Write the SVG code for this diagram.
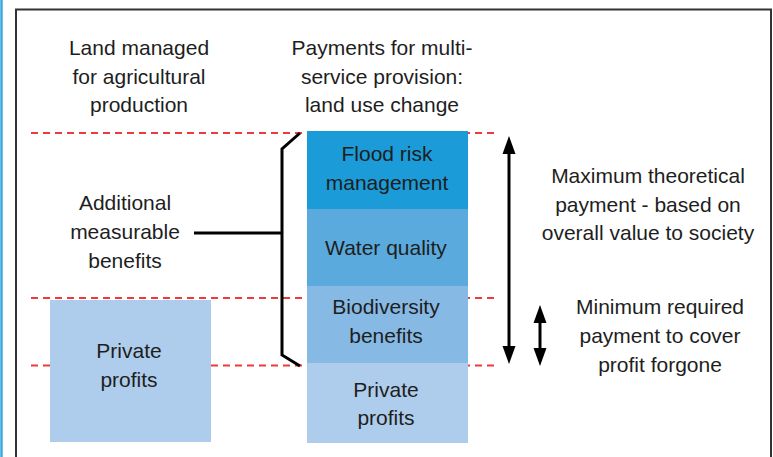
<svg xmlns="http://www.w3.org/2000/svg" width="773" height="457" viewBox="0 0 773 457">
<style>
  .t { font-family: "Liberation Sans", Arial, sans-serif; font-size: 21px; fill: #1e1e1e; text-anchor: middle; }
  .dash { stroke: #ee3a3a; stroke-width: 2.2; stroke-dasharray: 7 5; fill: none; }
  .ln { stroke: #000; stroke-width: 3; fill: none; }
</style>
<defs>
  <marker id="ah" markerUnits="userSpaceOnUse" markerWidth="22" markerHeight="16" viewBox="0 -8 22 16" refX="1" refY="0" orient="auto-start-reverse">
    <path d="M0,-6.5 L18,0 L0,6.5 z" fill="#000"/>
  </marker>
</defs>
<rect width="773" height="457" fill="#fff"/>
<line x1="1.5" y1="0" x2="1.5" y2="457" stroke="#3aa8e0" stroke-width="2.5"/>
<path d="M16,457 V9.5 H771 V457" stroke="#333" stroke-width="2" fill="none"/>

<g id="guides">
  <line class="dash" x1="31" y1="133" x2="496" y2="133"/>
  <line class="dash" x1="31" y1="298" x2="496" y2="298"/>
  <line class="dash" x1="31" y1="365.5" x2="496" y2="365.5"/>
</g>

<g id="header-left">
  <text class="t" x="139" y="55">Land managed</text>
  <text class="t" x="139" y="83.5">for agricultural</text>
  <text class="t" x="139" y="112">production</text>
</g>
<g id="header-right">
  <text class="t" x="382" y="55">Payments for multi-</text>
  <text class="t" x="382" y="83.5">service provision:</text>
  <text class="t" x="382" y="112">land use change</text>
</g>

<g id="left-private">
  <rect x="50" y="300" width="161" height="142" fill="#aecdec"/>
  <text class="t" x="129" y="358">Private</text>
  <text class="t" x="129" y="387">profits</text>
</g>

<g id="flood">
  <rect x="307" y="131" width="161" height="78" fill="#1b9bd7"/>
  <text class="t" x="387" y="161">Flood risk</text>
  <text class="t" x="387" y="190">management</text>
</g>
<g id="water">
  <rect x="307" y="209" width="161" height="77" fill="#5baadd"/>
  <text class="t" x="386" y="255">Water quality</text>
</g>
<g id="biodiversity">
  <rect x="307" y="286" width="161" height="77" fill="#86b9e4"/>
  <text class="t" x="386" y="314">Biodiversity</text>
  <text class="t" x="386" y="343">benefits</text>
</g>
<g id="right-private">
  <rect x="307" y="363" width="161" height="80" fill="#aecdec"/>
  <text class="t" x="386" y="397">Private</text>
  <text class="t" x="386" y="425">profits</text>
</g>

<g id="additional">
  <text class="t" x="125" y="210">Additional</text>
  <text class="t" x="125" y="239">measurable</text>
  <text class="t" x="125" y="268">benefits</text>
</g>

<g id="maximum">
  <text class="t" x="648" y="183">Maximum theoretical</text>
  <text class="t" x="648" y="212">payment - based on</text>
  <text class="t" x="648" y="240">overall value to society</text>
</g>
<g id="minimum">
  <text class="t" x="660" y="314">Minimum required</text>
  <text class="t" x="660" y="343">payment to cover</text>
  <text class="t" x="660" y="372">profit forgone</text>
</g>

<g id="connectors">
  <path class="ln" d="M300,133 L282,149 V355 L300,366"/>
  <line class="ln" x1="194" y1="233" x2="282" y2="233"/>
  <line class="ln" x1="509" y1="153" x2="509" y2="347" marker-start="url(#ah)" marker-end="url(#ah)"/>
  <line class="ln" x1="540" y1="322" x2="540" y2="349" marker-start="url(#ah)" marker-end="url(#ah)"/>
</g>
</svg>
